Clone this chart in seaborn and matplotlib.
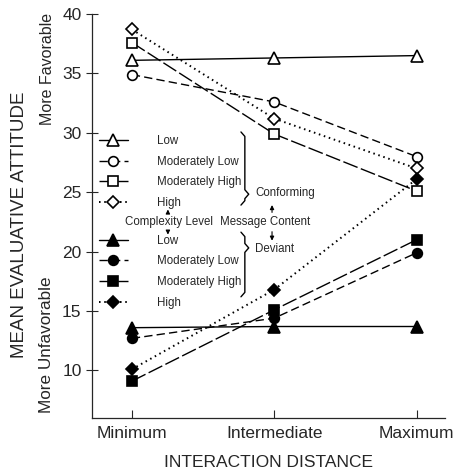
import matplotlib
matplotlib.use('Agg')
import matplotlib.pyplot as plt
from matplotlib.lines import Line2D
import pandas as pd
import seaborn as sns

sns.set_style('ticks')
plt.rcParams['font.family'] = ['Liberation Sans', 'DejaVu Sans']

distances = ['Minimum', 'Intermediate', 'Maximum']
levels = ['Low', 'Moderately Low', 'Moderately High', 'High']

# message content: conforming (open markers)
conf_low = [36.1, 36.3, 36.5]
conf_modlow = [34.9, 32.6, 28.0]
conf_modhigh = [37.6, 29.9, 25.1]
conf_high = [38.7, 31.2, 27.0]

# message content: deviant (filled markers)
dev_low = [13.6, 13.7, 13.7]
dev_modlow = [12.7, 14.4, 19.9]
dev_modhigh = [9.1, 15.1, 21.0]
dev_high = [10.1, 16.8, 26.1]

rows = []
for content, series in [('Conforming', [conf_low, conf_modlow, conf_modhigh, conf_high]),
                        ('Deviant', [dev_low, dev_modlow, dev_modhigh, dev_high])]:
    for lev, vals in zip(levels, series):
        for i, v in enumerate(vals):
            rows.append({'content': content, 'level': lev, 'pos': i, 'value': v})
df = pd.DataFrame(rows)

markers = {'Low': '^', 'Moderately Low': 'o', 'Moderately High': 's', 'High': 'D'}
msizes = {'Low': 8.5, 'Moderately Low': 7, 'Moderately High': 7, 'High': 6.5}
lstyles = {'Low': '-', 'Moderately Low': (0, (6, 3)),
           'Moderately High': (0, (11, 2.5)), 'High': (0, (0.8, 1.9))}
lwidths = {'Low': 1.0, 'Moderately Low': 1.0, 'Moderately High': 1.0, 'High': 1.4}
faces = {'Conforming': 'white', 'Deviant': 'black'}

fig = plt.figure(figsize=(4.59, 4.73), dpi=100)
ax = fig.add_axes([92 / 459, 1 - 418 / 473, 353 / 459, 404 / 473])

for (content, lev), sub in df.groupby(['content', 'level'], sort=False):
    sns.lineplot(data=sub, x='pos', y='value', ax=ax, color='k', lw=lwidths[lev],
                 linestyle=lstyles[lev], marker=markers[lev], markersize=msizes[lev],
                 markerfacecolor=faces[content], markeredgecolor='k',
                 markeredgewidth=1.2, errorbar=None)

ax.set_xlim(-0.28, 2.2)
ax.set_ylim(6, 40)
ax.set_xticks(range(len(distances)))
ax.set_xticklabels(distances, fontsize=12.5)
ax.set_yticks([10, 15, 20, 25, 30, 35, 40])
ax.tick_params(axis='y', labelsize=12.5, direction='inout', length=8, width=0.8)
ax.tick_params(axis='x', direction='in', length=6, width=0.8, pad=6)
ax.set_xlabel('INTERACTION DISTANCE', fontsize=12.5, labelpad=10)
ax.set_ylabel('')
sns.despine(ax=ax)
for s in ['left', 'bottom']:
    ax.spines[s].set_linewidth(0.9)

fig.text(20 / 459, 1 - 225 / 473, 'MEAN EVALUATIVE ATTITUDE', rotation=90,
         ha='center', va='center', fontsize=13.5)
fig.text(47 / 459, 1 - 69 / 473, 'More Favorable', rotation=90,
         ha='center', va='center', fontsize=11.5)
fig.text(47 / 459, 1 - 345 / 473, 'More Unfavorable', rotation=90,
         ha='center', va='center', fontsize=12.3)


def handles(face):
    return [Line2D([], [], color='k', lw=lwidths[l], linestyle=lstyles[l], marker=markers[l],
                   markersize=msizes[l], markerfacecolor=face, markeredgecolor='k',
                   markeredgewidth=1.2) for l in levels]


leg_kw = dict(loc='center left', frameon=False, fontsize=8.3, handlelength=2.5,
              handletextpad=2.5, labelspacing=0.76, borderpad=0, borderaxespad=0)
leg1 = ax.legend(handles('white'), levels, bbox_to_anchor=(0.02, 0.609), **leg_kw)
ax.add_artist(leg1)
ax.legend(handles('black'), levels, bbox_to_anchor=(0.02, 0.362), **leg_kw)

T = ax.transAxes
ax.text(0.218, 0.485, 'Complexity Level', transform=T, ha='center', va='center', fontsize=8.3)
ax.text(0.490, 0.485, 'Message Content', transform=T, ha='center', va='center', fontsize=8.3)
ax.text(0.462, 0.557, 'Conforming', transform=T, ha='left', va='center', fontsize=8.3)
ax.text(0.462, 0.418, 'Deviant', transform=T, ha='left', va='center', fontsize=8.3)

arrow = dict(arrowstyle='-|>', color='k', lw=0.8, mutation_scale=6)
for x, y0, y1 in [(0.215, 0.502, 0.523), (0.215, 0.468, 0.447),
                  (0.510, 0.502, 0.534), (0.510, 0.468, 0.432)]:
    ax.annotate('', xy=(x, y1), xytext=(x, y0), xycoords=T, arrowprops=arrow)


def brace(top, tip, bottom, x=0.433):
    d = 0.011
    ax.plot([x - d, x, x, x + d, x, x, x - d],
            [top, top - d, tip + d, tip, tip - d, bottom + d, bottom],
            transform=T, color='k', lw=1.0, clip_on=False)


brace(0.708, 0.554, 0.527)
brace(0.460, 0.421, 0.300)

fig.savefig('out.png', dpi=100)
